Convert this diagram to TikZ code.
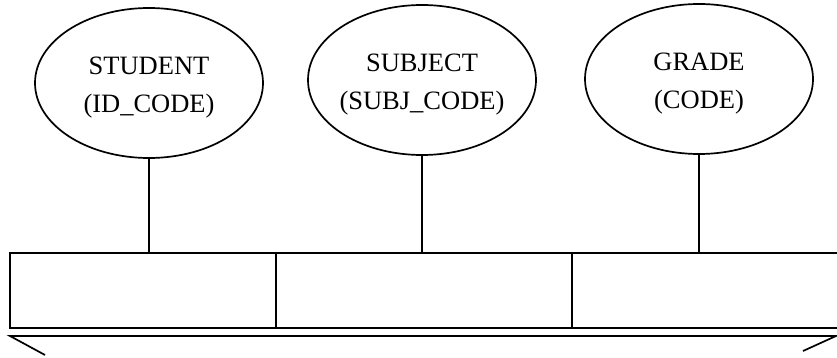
\documentclass[tikz,border=0pt]{standalone}
\usepackage{fontspec}
\setmainfont{Liberation Serif}
\usetikzlibrary{shapes.geometric}
\begin{document}
\begin{tikzpicture}[x=1pt,y=-1pt,line width=1.7pt,
  entity/.style={draw,ellipse,minimum width=228pt,minimum height=150pt,inner sep=0pt},
  etext/.style={align=center,inner sep=0pt,font=\fontsize{26.5}{38}\selectfont},
  cell/.style={draw,rectangle,inner sep=0pt,anchor=north west}]
\useasboundingbox (0,0) rectangle (837,358);
\node[entity] (e1) at (149,83) {};
\node[entity] (e2) at (422,80) {};
\node[entity] (e3) at (699,79) {};
\node[etext] (t1) at ([yshift=-5pt]e1.center) {STUDENT\\(ID\_CODE)};
\node[etext] (t2) at ([yshift=-5pt]e2.center) {SUBJECT\\(SUBJ\_CODE)};
\node[etext] (t3) at ([yshift=-5pt]e3.center) {GRADE\\(CODE)};
\node[cell,minimum width=266pt,minimum height=75pt] (c1) at (9,252) {};
\node[cell,minimum width=296pt,minimum height=75pt] (c2) at (275,252) {};
\node[cell,minimum width=268pt,minimum height=75pt] (c3) at (571,252) {};
\draw (e1.south) -- (e1.south |- c1.north);
\draw (e2.south) -- (e2.south |- c2.north);
\draw (e3.south) -- (e3.south |- c3.north);
\coordinate (bl) at (10,336);
\coordinate (br) at (836,336);
\coordinate (blt) at (45,355);
\coordinate (brt) at (803,351);
\draw (blt) -- (bl) -- (br) -- (brt);
\end{tikzpicture}
\end{document}
